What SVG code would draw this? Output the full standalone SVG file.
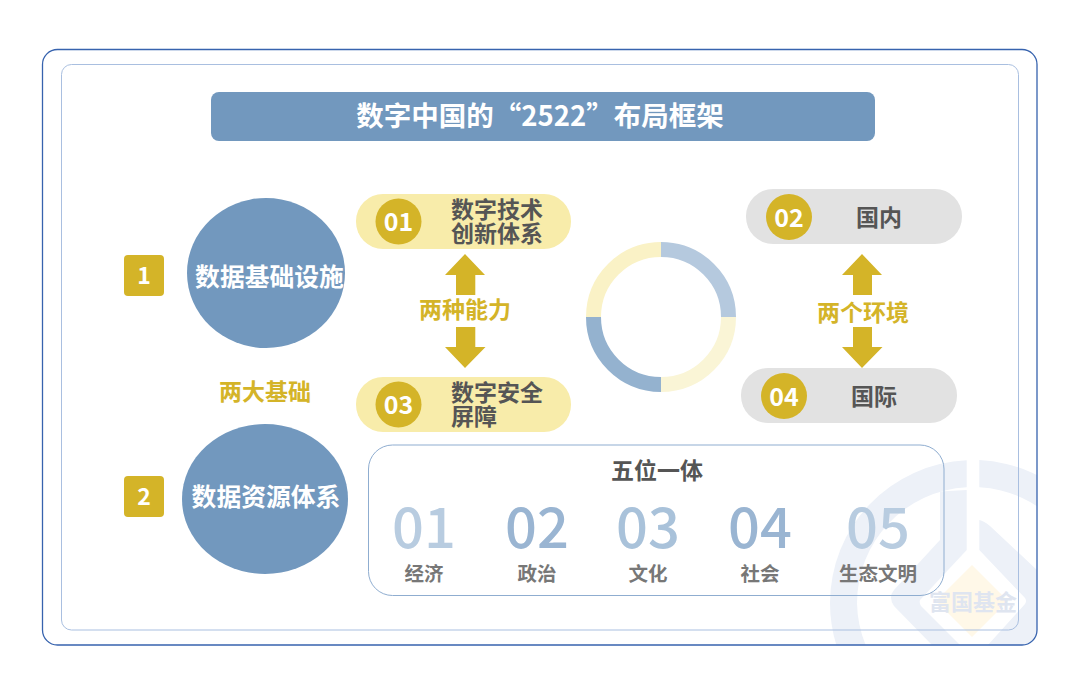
<svg xmlns="http://www.w3.org/2000/svg" width="1080" height="692" viewBox="0 0 1080 692">
<style>
text{font-family:"Noto Sans CJK SC","Noto Sans",sans-serif;text-anchor:middle;font-weight:700}
.w{fill:#fff}.d{fill:#555}.g{fill:#d4b428}.b{fill:#7298be}.y{fill:#f8ecaa}.e{fill:#e2e2e2}
.t24{font-size:24px}.t23{font-size:23px}.n{font-size:56px;font-weight:500}.l{font-size:19.500px;fill:#777}
</style>
<defs><clipPath id="wm"><rect x="42" y="49" width="995" height="596" rx="14"/></clipPath></defs>
<rect width="1080" height="692" fill="#fff"/>
<g id="watermark" clip-path="url(#wm)">
<g fill="#edf1f8">
<path d="M966.700 460.300A143 143 0 0 0 830 603A143 143 0 0 0 875 707L894 686A116 116 0 0 1 857 603A116 116 0 0 1 966.700 487.200Z"/>
<path d="M979.300 460.100A143 143 0 0 1 1116 603L1089 603A116 116 0 0 0 979.300 487.200Z"/>
<path d="M940 491.500L966.700 490V550L920 600Q919 603 921 606L961 646H933L894 606Q888 597 894 590L940 540Z"/>
<path d="M979.300 520Q984 521 990 526L1037 570V646H987L1025 604Q1027 601 1025 598L979.300 550Z"/>
</g>
<path d="M972 565L1008 601L972 637L936 601Z" fill="#fff8e8"/>
<text x="973" y="610" font-size="22" fill="#dfe5f0">富国基金</text>
</g>
<g id="frames" fill="none">
<rect id="outer-frame" x="42.500" y="49.500" width="994.500" height="595.500" rx="15" stroke="#3763ae" stroke-width="1.300"/>
<rect id="inner-frame" x="61.500" y="64.500" width="957" height="565.500" rx="10" stroke="#a9bfe0"/>
</g>
<g id="title"><rect class="b" x="211" y="92" width="664" height="49" rx="8"/><text class="w" x="540" y="126" font-size="27.500">数字中国的“2522”布局框架</text></g>
<g id="connectors">
<path class="g" d="M465 254L485 275H475.300V295H456V275H445Z"/>
<path class="g" d="M456 327H475.300V347H485.500L465 368L445 347H456Z"/>
<path class="g" d="M862 254L882 275H872V295H853V275H842Z"/>
<path class="g" d="M853 327H872V347H882.500L862 368L842 347H853Z"/>
</g>
<g id="label-two-foundations"><text class="g t23" x="265" y="400">两大基础</text></g>
<g id="label-two-abilities"><text class="g t23" x="465" y="318">两种能力</text></g>
<g id="label-two-env"><text class="g t23" x="863" y="321">两个环境</text></g>
<g id="badge-1"><rect class="g" x="124" y="255" width="40" height="41" rx="4"/><text class="w" x="144" y="284" font-size="23">1</text></g>
<g id="badge-2"><rect class="g" x="124" y="476" width="40" height="41" rx="4"/><text class="w" x="144" y="505" font-size="23">2</text></g>
<g id="node-infra"><ellipse class="b" cx="266" cy="273" rx="79" ry="75"/><text class="w" x="269.500" y="286" font-size="24.800">数据基础设施</text></g>
<g id="node-resource"><ellipse class="b" cx="265" cy="499" rx="83" ry="75"/><text class="w" x="266" y="506" font-size="24.800">数据资源体系</text></g>
<g id="node-01"><rect class="y" x="356" y="194" width="215" height="55" rx="27"/><circle class="g" cx="398.500" cy="221.500" r="23"/><text class="w" x="398.500" y="231" font-size="25">01</text><text class="d t23" x="497" y="218">数字技术</text><text class="d t23" x="497" y="242">创新体系</text></g>
<g id="node-03"><rect class="y" x="356" y="377" width="215" height="55" rx="27"/><circle class="g" cx="398.500" cy="404.500" r="23"/><text class="w" x="398.500" y="414" font-size="25">03</text><text class="d t23" x="497" y="401">数字安全</text><text class="d t23" x="474" y="425">屏障</text></g>
<g id="node-02"><rect class="e" x="746" y="189" width="216" height="55" rx="27"/><circle class="g" cx="789" cy="217" r="23"/><text class="w" x="789" y="226.500" font-size="25">02</text><text class="d t23" x="879" y="226">国内</text></g>
<g id="node-04"><rect class="e" x="741" y="368" width="216" height="55" rx="27"/><circle class="g" cx="784" cy="396" r="23"/><text class="w" x="784" y="405.500" font-size="25">04</text><text class="d t23" x="874" y="405">国际</text></g>
<g id="donut" fill="none" stroke-width="15">
<path d="M661 249.500A67.500 67.500 0 0 1 728.500 317" stroke="#b5c9de"/>
<path d="M728.500 317A67.500 67.500 0 0 1 661 384.500" stroke="#faf5d6"/>
<path d="M661 384.500A67.500 67.500 0 0 1 593.500 317" stroke="#94b2cf"/>
<path d="M593.500 317A67.500 67.500 0 0 1 661 249.500" stroke="#faf2c6"/>
</g>
<g id="five-in-one">
<rect x="368.500" y="445" width="575.500" height="150.500" rx="24" fill="none" stroke="#8fadd0"/>
<text class="d" x="657" y="479" font-size="23">五位一体</text>
<text class="n" x="424" y="548" fill="#b8cce0">01</text><text class="l" x="424" y="581">经济</text>
<text class="n" x="537" y="548" fill="#9ab5d2">02</text><text class="l" x="537" y="581">政治</text>
<text class="n" x="648" y="548" fill="#a9c2da">03</text><text class="l" x="648" y="581">文化</text>
<text class="n" x="760" y="548" fill="#9ab5d2">04</text><text class="l" x="760" y="581">社会</text>
<text class="n" x="878" y="548" fill="#b8cce0">05</text><text class="l" x="878" y="581">生态文明</text>
</g>
</svg>
